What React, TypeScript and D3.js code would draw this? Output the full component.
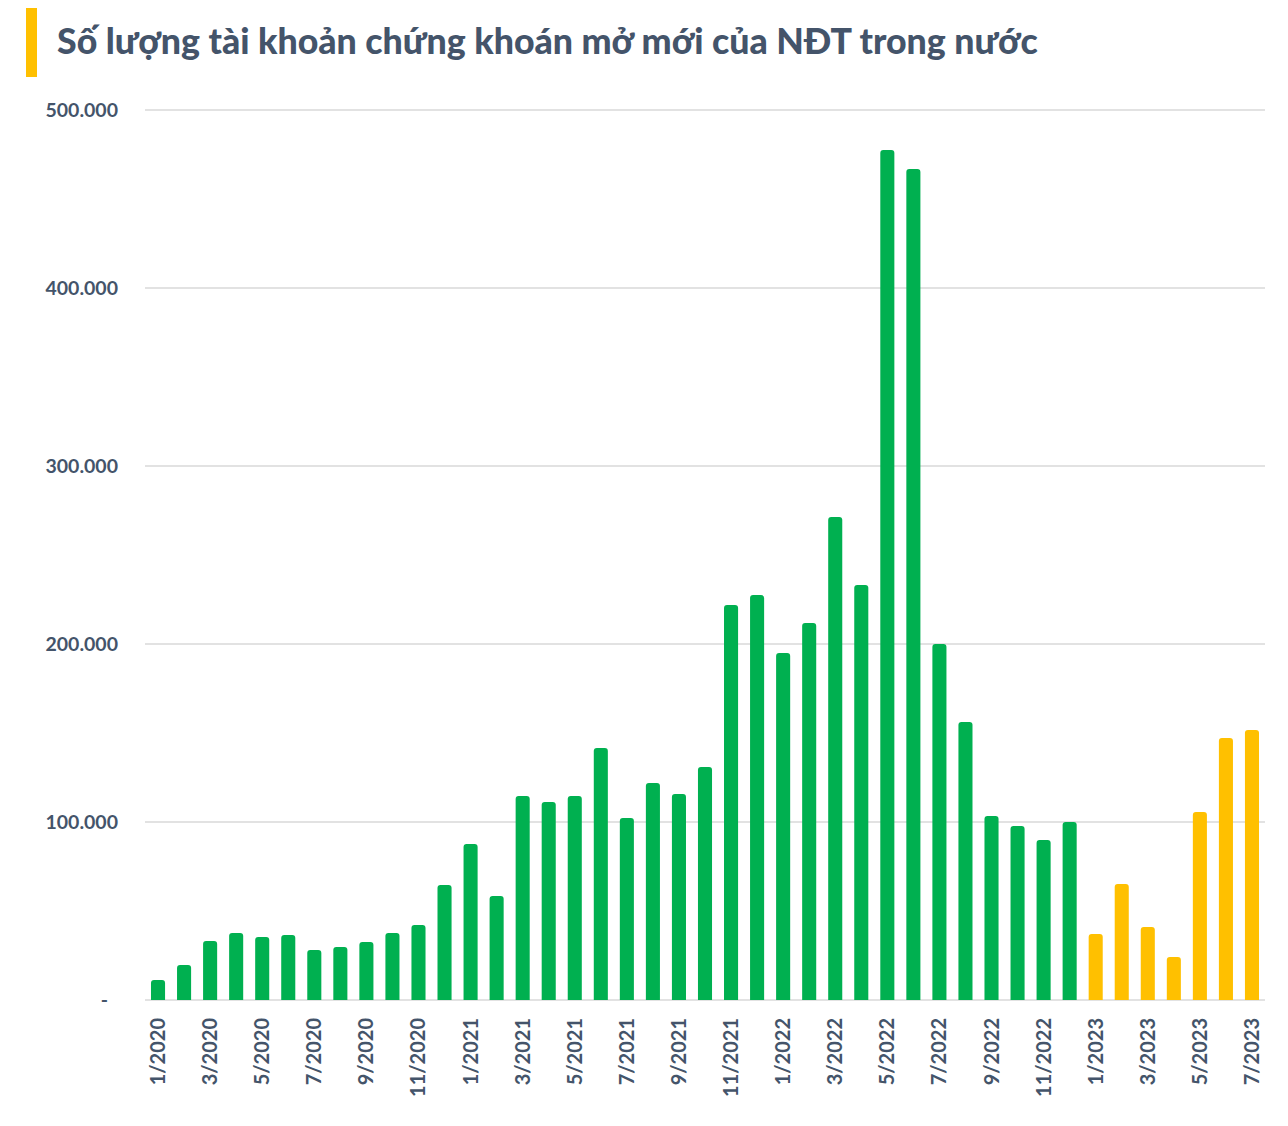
import * as d3 from 'd3';
import React from 'react';

const months = [
  '1/2020', '2/2020', '3/2020', '4/2020', '5/2020', '6/2020', '7/2020', '8/2020', '9/2020', '10/2020', '11/2020', '12/2020',
  '1/2021', '2/2021', '3/2021', '4/2021', '5/2021', '6/2021', '7/2021', '8/2021', '9/2021', '10/2021', '11/2021', '12/2021',
  '1/2022', '2/2022', '3/2022', '4/2022', '5/2022', '6/2022', '7/2022', '8/2022', '9/2022', '10/2022', '11/2022', '12/2022',
  '1/2023', '2/2023', '3/2023', '4/2023', '5/2023', '6/2023', '7/2023',
];

const newAccounts = [
  11200, 19700, 33100, 37600, 35400, 36500, 28100, 29800, 32600, 37600, 42100, 64600,
  87600, 58400, 114600, 111200, 114600, 141600, 102200, 121900, 115700, 130900, 221900, 227500,
  195000, 211800, 271300, 233100, 477500, 466900, 200000, 156200, 103400, 97800, 89900, 100000,
  37100, 65200, 41000, 24200, 105600, 147200, 151700,
];

const yTicks = [0, 100000, 200000, 300000, 400000, 500000];

const width = 1288;
const height = 1126;
const margin = { top: 110, right: 23, bottom: 126, left: 145 };
const textColor = '#44546A';
const font = 'Lato, "Open Sans", sans-serif';

const fmt = (v: number) => (v === 0 ? '-' : d3.format(',')(v).replace(/,/g, '.'));

const App: React.FC = () => {
  const x = d3.scaleBand<string>()
    .domain(months)
    .range([margin.left, width - margin.right])
    .paddingInner(0.46)
    .paddingOuter(0.23);

  const y = d3.scaleLinear()
    .domain([0, 500000])
    .range([height - margin.bottom, margin.top]);

  const bw = x.bandwidth();
  const r = 3;

  const barPath = (m: string, v: number) => {
    const x0 = x(m) as number;
    const y0 = y(0);
    const y1 = y(v);
    const p = d3.path();
    p.moveTo(x0, y0);
    p.lineTo(x0, y1 + r);
    p.quadraticCurveTo(x0, y1, x0 + r, y1);
    p.lineTo(x0 + bw - r, y1);
    p.quadraticCurveTo(x0 + bw, y1, x0 + bw, y1 + r);
    p.lineTo(x0 + bw, y0);
    p.closePath();
    return p.toString();
  };

  return (
    <svg width={width} height={height} style={{ display: 'block', margin: '-8px', background: '#fff' }}>
      {/* title */}
      <rect x={26} y={7} width={11} height={70} fill="#FFC000" />
      <text x={57} y={54} fill={textColor} fontFamily={font} fontWeight={900} fontSize={35.7}>
        Số lượng tài khoản chứng khoán mở mới của NĐT trong nước
      </text>

      {/* gridlines + y labels */}
      {yTicks.map(t => (
        <g key={t}>
          <line x1={margin.left} x2={width - margin.right} y1={y(t)} y2={y(t)} stroke="#D9D9D9" strokeWidth={1.5} />
          <text
            x={t === 0 ? 108 : 118}
            y={y(t)}
            dy="0.35em"
            textAnchor="end"
            fill={textColor}
            fontFamily={font}
            fontWeight={700}
            fontSize={19.5}
          >
            {fmt(t)}
          </text>
        </g>
      ))}

      {/* bars */}
      {months.map((m, i) => (
        <path key={m} d={barPath(m, newAccounts[i])} fill={m.endsWith('2023') ? '#FFC000' : '#00B050'} />
      ))}

      {/* x labels, every other month */}
      {months.map((m, i) => i % 2 === 0 && (
        <text
          key={m}
          transform={`translate(${(x(m) as number) + bw / 2},${y(0) + 18}) rotate(-90)`}
          textAnchor="end"
          dy="0.35em"
          fill={textColor}
          fontFamily={font}
          fontWeight={700}
          fontSize={20}
        >
          {m}
        </text>
      ))}
    </svg>
  );
};

export default App;
